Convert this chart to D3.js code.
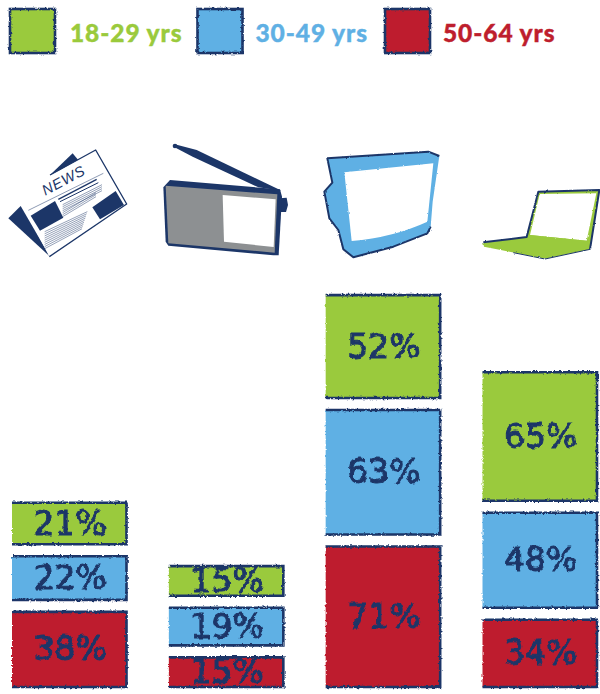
<!DOCTYPE html>
<html>
<head>
<meta charset="utf-8">
<script src="https://cdn.jsdelivr.net/npm/d3@7"></script>
<style>
html,body{margin:0;padding:0;background:#fff}
svg{display:block}
</style>
</head>
<body>
<svg id="chart" width="600" height="694"></svg>
<script>
// Share of each age group using each medium, in percent
const media = ["Newspaper", "Radio", "Television", "Internet"];
const ageGroups = ["18-29 yrs", "30-49 yrs", "50-64 yrs"];
const youngest = [21, 15, 52, 65];
const middle = [22, 19, 63, 48];
const oldest = [38, 15, 71, 34];
const seriesValues = [youngest, middle, oldest];
const groupColors = ["#9aca3c", "#5fb0e4", "#be1e2d"];
const navy = "#1c3668";
const grey = "#8d9092";

const svg = d3.select("#chart");
const defs = svg.append("defs");

// Scratchy marker edge shared by boxes, numbers and icons
function roughFilter(id, freq, amount, seed) {
  const f = defs.append("filter").attr("id", id)
    .attr("x", "-10%").attr("y", "-10%").attr("width", "120%").attr("height", "120%");
  f.append("feTurbulence").attr("type", "fractalNoise").attr("baseFrequency", freq)
    .attr("numOctaves", 2).attr("seed", seed).attr("result", "n");
  f.append("feDisplacementMap").attr("in", "SourceGraphic").attr("in2", "n")
    .attr("scale", amount).attr("xChannelSelector", "R").attr("yChannelSelector", "G");
}
roughFilter("rough", 0.4, 3, 4);
roughFilter("roughText", 0.16, 4, 9);
roughFilter("roughIcon", 0.13, 6, 6);

const x = d3.scaleBand().domain(media).range([12, 597]).paddingInner(0.27);
const h = d3.scaleLinear().domain([0, 100]).range([0, 197.8]);
const baseline = 687;
const gap = 12;

// Columns stack upward from the baseline, oldest group at the bottom
const columns = svg.append("g").attr("class", "columns");
media.forEach((m, i) => {
  let bottom = baseline;
  for (let s = seriesValues.length - 1; s >= 0; s--) {
    const v = seriesValues[s][i];
    const bh = h(v);
    const top = bottom - bh;
    const x0 = x(m), x1 = x0 + x.bandwidth();
    const g = columns.append("g");
    const boxes = g.append("g").attr("filter", "url(#rough)");
    boxes.append("rect").attr("x", x0).attr("y", top)
      .attr("width", x.bandwidth()).attr("height", bh).attr("fill", groupColors[s]);
    boxes.append("path")
      .attr("d", d3.line()([[x0, top], [x1, top], [x1, bottom], [x0, bottom]]))
      .attr("fill", "none").attr("stroke", navy).attr("stroke-width", 2.6);
    g.append("text").attr("x", x0 + x.bandwidth() / 2 + 1).attr("y", top + bh / 2 + 11)
      .attr("text-anchor", "middle")
      .attr("font-family", "'DejaVu Sans'")
      .attr("font-size", 33).attr("letter-spacing", 0)
      .attr("fill", navy).attr("stroke", navy).attr("stroke-width", 1)
      .attr("filter", "url(#roughText)")
      .text(v + "%");
    bottom = top - gap;
  }
});

// Legend across the top
const legendX = d3.scalePoint().domain(ageGroups).range([10, 385]);
const legend = svg.append("g").attr("class", "legend");
ageGroups.forEach((name, i) => {
  legend.append("rect").attr("x", legendX(name)).attr("y", 9)
    .attr("width", 45).attr("height", 44)
    .attr("fill", groupColors[i]).attr("stroke", navy).attr("stroke-width", 2.6)
    .attr("filter", "url(#rough)");
  legend.append("text").attr("x", legendX(name) + (i === 0 ? 60 : 58)).attr("y", 42)
    .attr("font-family", "Lato").attr("font-weight", 900).attr("font-size", 24.5)
    .attr("letter-spacing", 0.9).attr("fill", groupColors[i])
    .attr("stroke", groupColors[i]).attr("stroke-width", 0.4).text(name);
});

// Icons are sketched on a 3x grid and scaled down into place
const lineGen = d3.line();
function icon(ox, rough) {
  const g = svg.append("g").attr("transform", `translate(${ox},130) scale(${1 / 3})`);
  if (rough) g.attr("filter", "url(#roughIcon)");
  return g;
}
function shape(g, pts, fill, stroke, sw, closed = true) {
  g.append("path").attr("d", lineGen(pts) + (closed ? "Z" : ""))
    .attr("fill", fill).attr("stroke", stroke || "none").attr("stroke-width", sw || 0)
    .attr("stroke-linejoin", "round");
}

// Newspaper
const paper = icon(0);
shape(paper, [[25, 265], [62, 228], [150, 380]], navy);
shape(paper, [[150, 135], [218, 70], [240, 97]], navy);
shape(paper, [[50, 192], [287, 60], [380, 222], [148, 380]], "#fff");
shape(paper, [[150, 135], [287, 60], [380, 222], [148, 380]], "none", navy, 4, false);
shape(paper, [[92, 257], [165, 213], [190, 263], [120, 302]], navy);
shape(paper, [[277, 232], [347, 183], [372, 225], [300, 268]], navy);
shape(paper, [[85, 241], [310, 130]], "none", navy, 1.5, false);
shape(paper, [[175, 208], [290, 148]], "none", navy, 4, false);
shape(paper, [[180, 215], [295, 158]], "none", navy, 3, false);
d3.range(7).forEach(k => shape(paper,
  [[188, 224 + k * 6], [306 - (k > 3 ? 18 : 0), 164 + k * 6]], "none", navy, 1.4, false));
d3.range(9).forEach(k => shape(paper,
  [[134, 305 + k * 6.4], [262 - k * 2, 245 + k * 6.4]], "none", navy, 1.4, false));
paper.append("text").attr("transform", "translate(136,197) rotate(-28)")
  .attr("font-family", "'Liberation Sans'").attr("font-style", "italic").attr("font-size", 44)
  .attr("letter-spacing", 2).attr("fill", navy).text("NEWS");

// Radio
const radio = icon(0);
radio.append("circle").attr("cx", 525).attr("cy", 48).attr("r", 7).attr("fill", navy);
shape(radio, [[530, 44], [590, 60], [845, 182], [775, 172], [578, 80], [528, 54]], navy);
shape(radio, [[838, 205], [860, 203], [864, 225], [858, 246], [838, 246]], navy);
shape(radio, [[490, 172], [510, 150], [840, 178], [846, 200], [836, 376], [820, 376], [505, 347], [497, 335]], navy);
shape(radio, [[497, 167], [832, 193], [824, 368], [505, 340]], grey);
shape(radio, [[668, 195], [827, 208], [821, 351], [672, 335]], "#fff");

// Television
const tv = icon(300, true);
const tvOutline = [[82, 85], [385, 65], [418, 78], [398, 215], [392, 290], [382, 310], [280, 350], [160, 382], [130, 358], [115, 300], [88, 265], [73, 185], [97, 158]];
shape(tv, tvOutline, groupColors[1]);
shape(tv, [[418, 78], [385, 65], [82, 85], [97, 158], [73, 185], [88, 265], [115, 300], [130, 358], [160, 382], [280, 350], [382, 310], [392, 290]],
  "none", navy, 6, false);
tv.append("path")
  .attr("d", "M133,127 L400,100 L382,275 Q280,322 155,333 Z")
  .attr("fill", "#fff");

// Laptop
const laptop = icon(300, true);
shape(laptop, [[715, 185], [898, 180], [870, 355], [680, 322]], groupColors[0]);
shape(laptop, [[719, 192], [889, 190], [860, 332], [690, 315]], "#fff");
shape(laptop, [[550, 338], [680, 322], [690, 315], [860, 332], [870, 358], [735, 386], [552, 350]], groupColors[0]);
shape(laptop, [[550, 337], [680, 321], [715, 185], [898, 180], [870, 358]], "none", navy, 6, false);
shape(laptop, [[870, 358], [735, 387], [640, 368]], "none", navy, 3, false);
</script>
</body>
</html>
